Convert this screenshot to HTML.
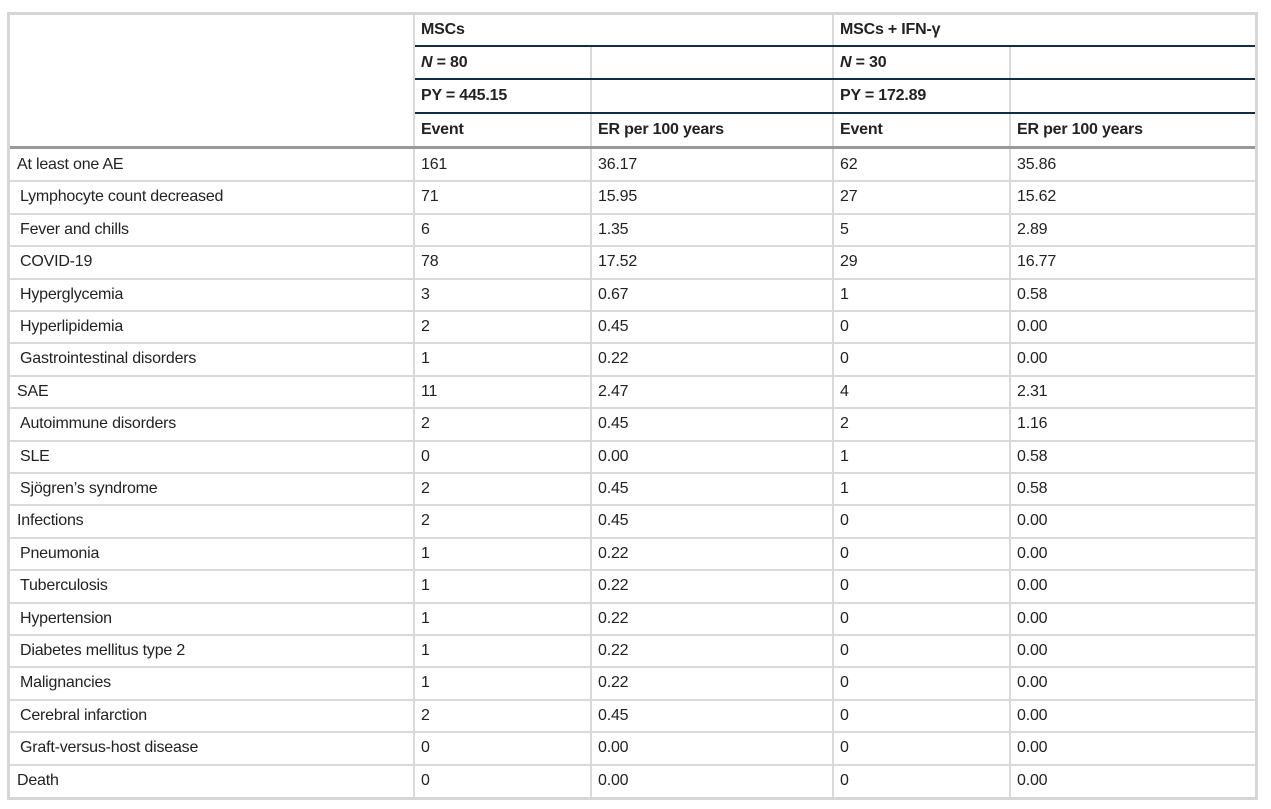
<!DOCTYPE html>
<html><head><meta charset="utf-8"><style>
body{margin:0;width:1271px;height:809px;background:#fff;position:relative;font-family:"Liberation Sans",sans-serif;font-size:16px;color:#222;overflow:hidden}
.a{position:absolute}
.t{position:absolute;line-height:20px;white-space:nowrap;letter-spacing:-0.2px}
.b{font-weight:bold}
.h{background:#d9d9d9}
.d{background:#0d3048}
</style></head><body>
<div class="a" style="left:7px;top:12px;width:1245px;height:782px;border:3px solid #d6d6d6;box-sizing:content-box"></div>
<div class="a h" style="left:413px;top:15px;width:2px;height:782px"></div>
<div class="a h" style="left:832px;top:15px;width:2px;height:782px"></div>
<div class="a h" style="left:590px;top:46px;width:2px;height:751px"></div>
<div class="a h" style="left:1009px;top:46px;width:2px;height:751px"></div>
<div class="a d" style="left:415px;top:45px;width:840px;height:2px"></div>
<div class="a d" style="left:415px;top:78px;width:840px;height:2px"></div>
<div class="a d" style="left:415px;top:112px;width:840px;height:2px"></div>
<div class="a" style="left:10px;top:146px;width:1245px;height:3px;background:#9a9a9a"></div>
<div class="t b" style="left:421px;top:20px">MSCs</div>
<div class="t b" style="left:840px;top:20px">MSCs + IFN-γ</div>
<div class="t b" style="left:421px;top:53px"><i>N</i> = 80</div>
<div class="t b" style="left:840px;top:53px"><i>N</i> = 30</div>
<div class="t b" style="left:421px;top:86px">PY = 445.15</div>
<div class="t b" style="left:840px;top:86px">PY = 172.89</div>
<div class="t b" style="left:421px;top:120px">Event</div>
<div class="t b" style="left:598px;top:120px">ER per 100 years</div>
<div class="t b" style="left:840px;top:120px">Event</div>
<div class="t b" style="left:1017px;top:120px">ER per 100 years</div>
<div id="rows"></div>
<script>
var R=[["At least one AE",0,"161","36.17","62","35.86"],
["Lymphocyte count decreased",1,"71","15.95","27","15.62"],
["Fever and chills",1,"6","1.35","5","2.89"],
["COVID-19",1,"78","17.52","29","16.77"],
["Hyperglycemia",1,"3","0.67","1","0.58"],
["Hyperlipidemia",1,"2","0.45","0","0.00"],
["Gastrointestinal disorders",1,"1","0.22","0","0.00"],
["SAE",0,"11","2.47","4","2.31"],
["Autoimmune disorders",1,"2","0.45","2","1.16"],
["SLE",1,"0","0.00","1","0.58"],
["Sjögren’s syndrome",1,"2","0.45","1","0.58"],
["Infections",0,"2","0.45","0","0.00"],
["Pneumonia",1,"1","0.22","0","0.00"],
["Tuberculosis",1,"1","0.22","0","0.00"],
["Hypertension",1,"1","0.22","0","0.00"],
["Diabetes mellitus type 2",1,"1","0.22","0","0.00"],
["Malignancies",1,"1","0.22","0","0.00"],
["Cerebral infarction",1,"2","0.45","0","0.00"],
["Graft-versus-host disease",1,"0","0.00","0","0.00"],
["Death",0,"0","0.00","0","0.00"]];
var h="";
for(var i=0;i<R.length;i++){var y=149+i*32.4;var r=R[i];
if(i>0)h+='<div class="a h" style="left:10px;top:'+(y-1)+'px;width:1245px;height:2px"></div>';
var ty=y+6;
h+='<div class="t" style="left:'+(r[1]?20:17)+'px;top:'+ty+'px">'+r[0]+'</div>';
h+='<div class="t" style="left:421px;top:'+ty+'px">'+r[2]+'</div>';
h+='<div class="t" style="left:598px;top:'+ty+'px">'+r[3]+'</div>';
h+='<div class="t" style="left:840px;top:'+ty+'px">'+r[4]+'</div>';
h+='<div class="t" style="left:1017px;top:'+ty+'px">'+r[5]+'</div>';}
document.getElementById("rows").innerHTML=h;
</script>
</body></html>
